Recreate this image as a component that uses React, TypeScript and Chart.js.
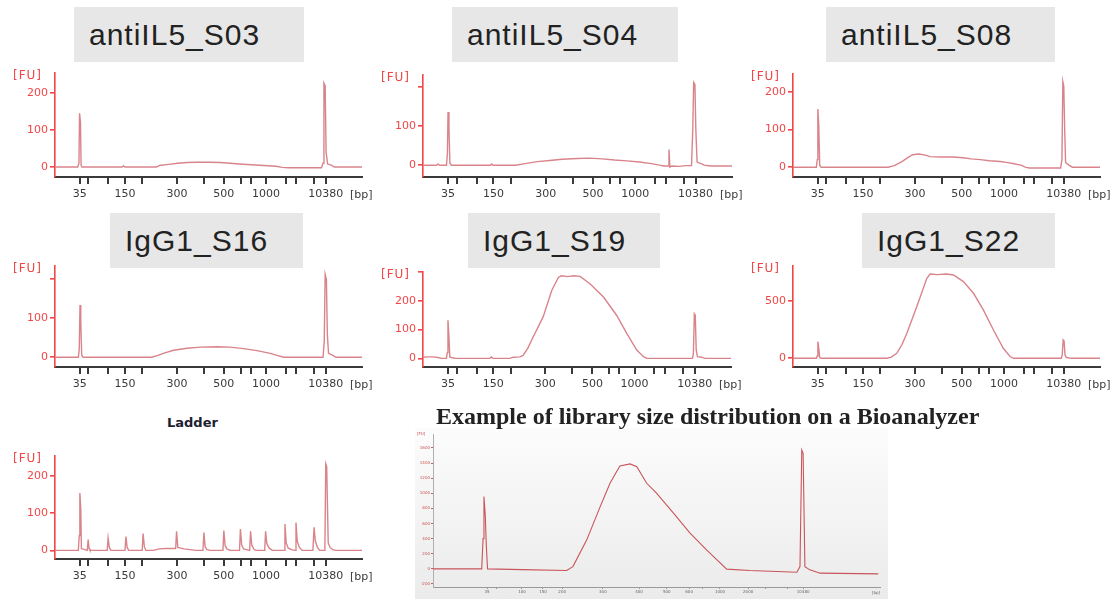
import React, { useEffect, useRef } from 'react';
import { Chart, registerables } from 'chart.js';
Chart.register(...registerables);
Chart.defaults.font.family = "'DejaVu Sans', sans-serif";

// x positions are migration-position units (0..100) of the Bioanalyzer axis
const BP_TICKS = [8.1, 10.9, 17.4, 22.8, 28.5, 39.7, 48.5, 55.0, 60.5, 63.7, 68.7, 75.1, 78.5, 84.4, 88.2];
const BP_LABELS = ['35', '', '', '150', '', '300', '', '500', '', '', '1000', '', '', '', '10380'];

const EX_TICKS = [12.1, 14.3, 19.9, 24.6, 28.9, 38.0, 46.1, 52.3, 57.3, 60.4, 64.2, 70.5, 74.3, 79.4, 82.8];
const EX_LABELS = ['35', '', '100', '150', '200', '300', '400', '500', '600', '', '1000', '2000', '', '', '10380'];
const EX_Y_TICKS = [-200, 0, 200, 400, 600, 800, 1000, 1200, 1400, 1600];

const FU_TICKS_200 = [0, 100, 200];
const FU_TICKS_300 = [0, 100, 200, 300];
const FU_TICKS_500 = [0, 500];

const S03: [number, number][] = [[0,0],[7.4,0],[7.8,10],[8.0,145],[8.3,120],[8.5,5],[8.8,0],[21.8,0],[22.3,3],[22.8,0],[33,0],[34,4],[37,7],[40,10],[43,12],[46,13],[50,13],[54,12],[57,10],[60,8],[64,6],[68,4],[72,2],[74,-1],[76,-2],[86.8,-2],[87.3,10],[87.6,227],[88,220],[88.3,40],[88.8,8],[90,5],[91,0],[100,0]];
const S04: [number, number][] = [[0,0],[4.4,0],[4.9,3],[5.4,0],[7.6,0],[7.9,30],[8.1,135],[8.4,95],[8.7,5],[9.2,0],[21.8,0],[22.2,3],[22.6,0],[30,0],[33,4],[37,9],[41,12],[45,15],[50,17],[54,18],[58,16],[62,13],[66,11],[70,8],[74,4],[76.5,0],[78,-2],[79.3,-2],[79.6,40],[79.9,-5],[80.5,-2],[83,-3],[85,-1],[86.9,-1],[87.3,90],[87.6,210],[88.0,205],[88.3,90],[88.7,8],[90,4],[91,0],[93,-2],[100,-2]];
const S08: [number, number][] = [[0,0],[7.6,0],[7.9,20],[8.1,154],[8.4,110],[8.7,5],[9.2,0],[31,0],[33,4],[35.5,15],[37.5,26],[39,33],[41,35],[43,32],[44.7,28],[48,27],[52,27],[55.5,25],[58,22],[61,20],[64,17],[67.5,15],[70,12],[72,9],[74.5,5],[75.6,0],[77,-2],[87.2,-2],[87.6,20],[87.9,227],[88.2,215],[88.5,100],[88.8,12],[90,5],[91,0],[100,0]];
const S16: [number, number][] = [[0,0],[7.6,0],[7.9,20],[8.15,134],[8.4,90],[8.7,5],[9.2,0],[31.5,0],[33.5,5],[35.3,10],[38.6,18],[43,23],[47.3,26],[52.7,27],[57,26],[61.4,22],[65.8,17],[70.1,10],[72.3,5],[74.5,0],[87.3,0],[87.7,40],[88.0,213],[88.4,200],[88.7,60],[89.1,10],[90.5,5],[91.5,0],[100,0]];
const S19: [number, number][] = [[0,3],[1,5],[3,5],[5,3],[6,0],[7.6,0],[7.9,20],[8.1,132],[8.4,80],[8.7,5],[9.5,2],[10.5,0],[21.7,0],[22.2,5],[22.7,0],[28.2,0],[29.3,4],[31.5,5],[32.5,10],[34,35],[35.8,75],[39,144],[41.8,236],[44,282],[45,287],[47,284],[49,287],[51,285],[54.2,259],[58.6,213],[62.9,149],[66.2,86],[69.4,29],[71.6,6],[72.7,0],[87.5,0],[87.8,20],[88.1,155],[88.4,150],[88.7,30],[89.1,6],[90.5,4],[91.5,0],[100,0]];
const S22: [number, number][] = [[0,0],[7.6,0],[7.9,20],[8.1,145],[8.4,90],[8.7,5],[9.2,0],[30.6,0],[32,10],[33.8,44],[35.5,120],[37.1,218],[40.3,450],[43.6,698],[44.7,735],[47,730],[50,735],[52.3,727],[55.5,669],[58.8,567],[62,422],[65.3,247],[68.5,87],[70.7,15],[71.8,0],[87.4,0],[87.7,30],[88.0,160],[88.3,150],[88.6,30],[89,8],[90,3],[91,0],[100,0]];
const LADDER: [number, number][] = [[0,0],[7.6,0],[7.9,40],[8.1,154],[8.4,110],[8.6,5],[10.5,0],[10.8,29],[11.1,5],[11.4,0],[17.0,0],[17.3,33],[17.7,8],[18.2,0],[22.8,0],[23.1,37],[23.5,8],[24.0,0],[28.4,0],[28.7,45],[29.1,10],[29.6,0],[32,0],[34,4],[36,5],[39.3,5],[39.6,51],[40.0,8],[42,4],[44,2],[46,0],[48.2,0],[48.5,48],[48.9,10],[49.5,2],[50.5,0],[54.7,0],[55.0,53],[55.4,14],[56,4],[57,0],[60.1,0],[60.4,57],[60.8,15],[61.4,4],[63.4,0],[63.7,51],[64.1,14],[64.8,3],[65.5,0],[68.3,0],[68.6,51],[69.0,18],[69.8,6],[70.8,0],[74.6,0],[74.9,71],[75.3,20],[76,6],[77,2],[78.2,0],[78.5,75],[78.9,25],[79.6,8],[80.5,0],[84.0,0],[84.4,62],[84.8,25],[85.5,8],[86.2,0],[87.9,0],[88.2,232],[88.5,225],[88.7,140],[89.0,20],[89.6,8],[90.5,2],[91.5,0],[100,0]];
const EXAMPLE: [number, number][] = [[0,0],[10.9,0],[11.2,400],[11.4,957],[11.7,700],[11.9,344],[12.2,0],[20,-10],[29.9,-22],[31.3,30],[34.4,384],[37.4,824],[39.6,1133],[41.8,1362],[44.1,1389],[45.6,1353],[47.8,1133],[50,1001],[53.8,737],[57.5,472],[61.2,251],[65.7,-4],[70.9,-22],[81.4,-44],[82.1,30],[82.5,1574],[82.8,1530],[83.2,30],[84.3,-13],[86.6,-57],[99.6,-66]];

type Spec = {
  data: [number, number][];
  axisX: number; axisEnd: number; top: number; bottom: number;
  yMin: number; yMax: number; yTicks: number[]; yLabels: string[];
  xTicks: number[]; xLabels: string[]; small?: boolean;
};

const RED = '#f04646';
const LINE = '#d9848b';

function Plot({ s }: { s: Spec }) {
  const ref = useRef<HTMLCanvasElement>(null);
  const PADL = 45, PADT = 10, PADR = 15, XH = 26;
  const w = s.axisEnd - s.axisX + PADL + PADR;
  const h = s.bottom - s.top + PADT + XH;
  useEffect(() => {
    const small = !!s.small;
    const c = new Chart(ref.current as HTMLCanvasElement, {
      type: 'line',
      data: {
        datasets: [{
          data: s.data.map(([x, y]) => ({ x, y })),
          borderColor: small ? '#c9545a' : LINE,
          borderWidth: small ? 1.1 : 1.4,
          pointRadius: 0, tension: 0, fill: false,
        }],
      },
      options: {
        animation: false, responsive: false, maintainAspectRatio: false, devicePixelRatio: 1,
        plugins: { legend: { display: false }, tooltip: { enabled: false } },
        layout: { padding: { top: PADT, right: PADR, left: 0, bottom: 0 } },
        scales: {
          x: {
            type: 'linear', min: 0, max: 100,
            afterBuildTicks: (sc: any) => { sc.ticks = s.xTicks.map((v) => ({ value: v })); },
            afterFit: (sc: any) => { sc.height = XH; },
            border: { color: small ? '#9a9a9a' : '#3a3a3a', width: small ? 1 : 2 },
            grid: { drawOnChartArea: false, drawTicks: true, tickLength: small ? 2 : 7, color: small ? '#9a9a9a' : '#3a3a3a', lineWidth: small ? 1 : 2 },
            ticks: {
              autoSkip: false, maxRotation: 0, minRotation: 0, padding: small ? 1 : 4,
              color: small ? '#666' : '#3a3a3a',
              font: { size: small ? 4 : 11 },
              callback: (_v: any, i: number) => s.xLabels[i] ?? '',
            },
          },
          y: {
            type: 'linear', min: s.yMin, max: s.yMax,
            afterBuildTicks: (sc: any) => { sc.ticks = s.yTicks.map((v) => ({ value: v })); },
            afterFit: (sc: any) => { sc.width = PADL; },
            border: { color: small ? '#b0b0b0' : RED, width: small ? 1 : 1.6 },
            grid: { drawOnChartArea: false, drawTicks: true, tickLength: small ? 2 : 5, color: small ? '#c06060' : RED, lineWidth: small ? 1 : 1.6 },
            ticks: {
              padding: small ? 1 : 2,
              color: small ? '#c85050' : RED,
              font: { size: small ? 4 : 11 },
              callback: (_v: any, i: number) => s.yLabels[i] ?? '',
            },
          },
        },
      },
    } as any);
    return () => c.destroy();
  }, []);
  return (
    <canvas ref={ref} width={w} height={h}
      style={{ position: 'absolute', left: s.axisX - PADL, top: s.top - PADT, width: w, height: h }} />
  );
}

const fuLabels = (t: number[], hide: number[] = []) => t.map((v) => (hide.includes(v) ? '' : String(v)));

const SPECS: Spec[] = [
  { data: S03, axisX: 55, axisEnd: 362, top: 73, bottom: 177, yMin: -27, yMax: 254, yTicks: FU_TICKS_200, yLabels: fuLabels(FU_TICKS_200), xTicks: BP_TICKS, xLabels: BP_LABELS },
  { data: S04, axisX: 423, axisEnd: 732, top: 75, bottom: 177, yMin: -30, yMax: 229, yTicks: FU_TICKS_200, yLabels: fuLabels(FU_TICKS_200, [200]), xTicks: BP_TICKS, xLabels: BP_LABELS },
  { data: S08, axisX: 793, axisEnd: 1100, top: 74, bottom: 177, yMin: -26, yMax: 247, yTicks: FU_TICKS_200, yLabels: fuLabels(FU_TICKS_200), xTicks: BP_TICKS, xLabels: BP_LABELS },
  { data: S16, axisX: 55, axisEnd: 362, top: 266, bottom: 367, yMin: -25, yMax: 234, yTicks: FU_TICKS_200, yLabels: fuLabels(FU_TICKS_200, [200]), xTicks: BP_TICKS, xLabels: BP_LABELS },
  { data: S19, axisX: 423, axisEnd: 731, top: 272, bottom: 367, yMin: -30, yMax: 300, yTicks: FU_TICKS_300, yLabels: fuLabels(FU_TICKS_300, [300]), xTicks: BP_TICKS, xLabels: BP_LABELS },
  { data: S22, axisX: 793, axisEnd: 1100, top: 266, bottom: 367, yMin: -76, yMax: 805, yTicks: FU_TICKS_500, yLabels: fuLabels(FU_TICKS_500), xTicks: BP_TICKS, xLabels: BP_LABELS },
  { data: LADDER, axisX: 55, axisEnd: 362, top: 456, bottom: 559, yMin: -23, yMax: 253, yTicks: FU_TICKS_200, yLabels: fuLabels(FU_TICKS_200), xTicks: BP_TICKS, xLabels: BP_LABELS },
  { data: EXAMPLE, axisX: 433, axisEnd: 880, top: 434, bottom: 587, yMin: -240, yMax: 1785, yTicks: EX_Y_TICKS, yLabels: EX_Y_TICKS.map(String), xTicks: EX_TICKS, xLabels: EX_LABELS, small: true },
];

const TITLES: { text: string; left: number; top: number; width: number }[] = [
  { text: 'antiIL5_S03', left: 74, top: 7, width: 230 },
  { text: 'antiIL5_S04', left: 452, top: 7, width: 226 },
  { text: 'antiIL5_S08', left: 826, top: 7, width: 229 },
  { text: 'IgG1_S16', left: 110, top: 213, width: 193 },
  { text: 'IgG1_S19', left: 468, top: 213, width: 192 },
  { text: 'IgG1_S22', left: 862, top: 213, width: 193 },
];

export default function App() {
  const abs = (o: any): React.CSSProperties => ({ position: 'absolute', whiteSpace: 'nowrap', ...o });
  return (
    <div style={{ position: 'absolute', left: 0, top: 0, width: 1117, height: 599, background: '#fff', overflow: 'hidden' }}>
      {TITLES.map((t) => (
        <div key={t.text} style={abs({ left: t.left, top: t.top, width: t.width, height: 55, background: '#e7e7e7',
          fontFamily: "'Liberation Sans', sans-serif", fontSize: 30, letterSpacing: 1, color: '#222', lineHeight: '55px', paddingLeft: 15, boxSizing: 'border-box' })}>
          {t.text}
        </div>
      ))}
      <div style={abs({ left: 415, top: 428, width: 473, height: 171, background: 'linear-gradient(180deg,#fcfcfc 0%,#ebebeb 100%)' })} />
      {SPECS.map((s, i) => <Plot key={i} s={s} />)}
      {SPECS.slice(0, 7).map((s, i) => (
        <React.Fragment key={'l' + i}>
          <div style={abs({ left: s.axisX - 42, top: s.top - 5, fontSize: 12, letterSpacing: 1, color: RED, fontFamily: "'DejaVu Sans', sans-serif" })}>[FU]</div>
          <div style={abs({ left: s.axisEnd - 12, top: s.bottom + 11, fontSize: 11, color: '#3a3a3a', fontFamily: "'DejaVu Sans', sans-serif" })}>[bp]</div>
        </React.Fragment>
      ))}
      <div style={abs({ left: 417, top: 431, fontSize: 4, color: '#c85050', fontFamily: "'DejaVu Sans', sans-serif" })}>[FU]</div>
      <div style={abs({ left: 872, top: 590, fontSize: 4, color: '#666', fontFamily: "'DejaVu Sans', sans-serif" })}>[bp]</div>
      <div style={abs({ left: 167, top: 415, fontSize: 13, fontWeight: 'bold', color: '#1c2030', fontFamily: "'DejaVu Sans', sans-serif" })}>Ladder</div>
      <div style={abs({ left: 436, top: 402, fontSize: 24, lineHeight: '28px', fontWeight: 'bold', color: '#222', fontFamily: "'Liberation Serif', serif" })}>
        Example of library size distribution on a Bioanalyzer
      </div>
    </div>
  );
}
